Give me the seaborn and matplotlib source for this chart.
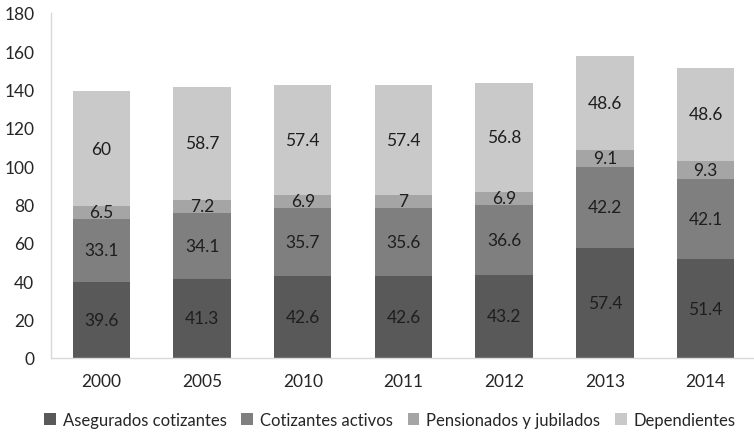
import matplotlib
matplotlib.use("Agg")
import matplotlib.pyplot as plt
import numpy as np
import pandas as pd
import seaborn as sns

years = ["2000", "2005", "2010", "2011", "2012", "2013", "2014"]
asegurados = [39.6, 41.3, 42.6, 42.6, 43.2, 57.4, 51.4]
cotizantes = [33.1, 34.1, 35.7, 35.6, 36.6, 42.2, 42.1]
pensionados = [6.5, 7.2, 6.9, 7.0, 6.9, 9.1, 9.3]
dependientes = [60, 58.7, 57.4, 57.4, 56.8, 48.6, 48.6]

series = ["Asegurados cotizantes", "Cotizantes activos",
          "Pensionados y jubilados", "Dependientes"]
values = [asegurados, cotizantes, pensionados, dependientes]
colors = ["#595959", "#7f7f7f", "#a5a5a5", "#c9c9c9"]

sns.set_style("white")
plt.rcParams["font.family"] = ["Lato", "DejaVu Sans"]
text_color = "#262626"

fig = plt.figure(figsize=(7.54, 4.35), dpi=100)
ax = fig.add_axes([0.0676, 0.175, 0.935, 0.793])

cum = np.cumsum(np.array(values), axis=0)
# draw tallest stack first, smaller ones on top
for i in range(len(series) - 1, -1, -1):
    df = pd.DataFrame({"year": years, "val": cum[i]})
    sns.barplot(data=df, x="year", y="val", color=colors[i], width=0.57,
                saturation=1, ax=ax, label=series[i],
                edgecolor="none", linewidth=0)

# segment labels
for i, vals in enumerate(values):
    for j, v in enumerate(vals):
        bottom = cum[i][j] - v
        txt = "%g" % v
        ax.text(j, bottom + v / 2, txt, ha="center", va="center",
                fontsize=12.5, color="#1e1e1e")

ax.set_ylim(0, 180)
ax.set_yticks(range(0, 181, 20))
ax.set_xlim(-0.5, 6.5)
ax.set_xlabel("")
ax.set_ylabel("")
ax.tick_params(axis="both", length=0, labelsize=12.5, colors=text_color)
ax.tick_params(axis="y", pad=12)
ax.tick_params(axis="x", pad=11)
for s in ["top", "right"]:
    ax.spines[s].set_visible(False)
for s in ["left", "bottom"]:
    ax.spines[s].set_color("#d9d9d9")
    ax.spines[s].set_linewidth(1)

handles, labels = ax.get_legend_handles_labels()
order = [labels.index(s) for s in series]
leg = fig.legend([handles[k] for k in order], [labels[k] for k in order],
                 loc="center", bbox_to_anchor=(0.517, 0.032), ncol=4,
                 frameon=False, fontsize=12, handlelength=0.7,
                 handleheight=0.7, handletextpad=0.4, columnspacing=0.9,
                 labelcolor=text_color)
if ax.get_legend():
    ax.get_legend().remove()

fig.savefig("out.png", dpi=100)
